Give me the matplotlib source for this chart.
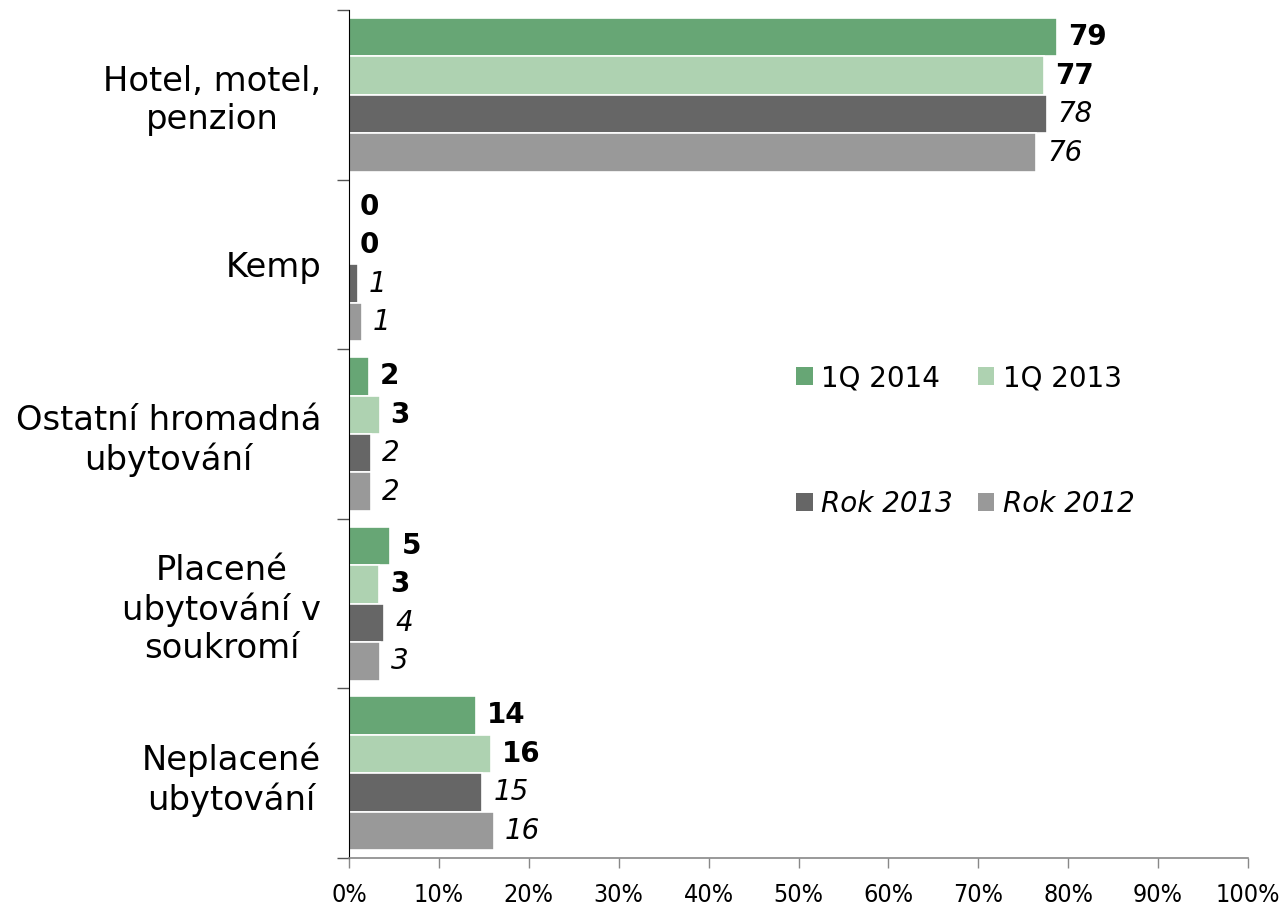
import matplotlib
matplotlib.use("Agg")
import matplotlib.pyplot as plt
import numpy as np
from matplotlib.patches import Patch

plt.rcParams['font.family'] = ['DejaVu Sans']

categories = ["Hotel, motel,\npenzion", "Kemp", "Ostatní hromadná\nubytování",
              "Placené\nubytování v\nsoukromí", "Neplacené\nubytování"]
series_names = ["1Q 2014", "1Q 2013", "Rok 2013", "Rok 2012"]
q1_2014 = [78.8, 0.0, 2.2, 4.6, 14.1]
q1_2013 = [77.3, 0.0, 3.4, 3.3, 15.8]
rok_2013 = [77.6, 1.0, 2.4, 3.9, 14.8]
rok_2012 = [76.4, 1.4, 2.4, 3.4, 16.1]
x_ticks = [0, 10, 20, 30, 40, 50, 60, 70, 80, 90, 100]
x_tick_labels = [f"{t}%" for t in x_ticks]

colors = ["#67A675", "#AED2B1", "#666666", "#999999"]
series = [q1_2014, q1_2013, rok_2013, rok_2012]
bold_flags = [True, True, False, False]

fig = plt.figure(figsize=(12.83, 9.06), dpi=100)
ax = fig.add_axes([349/1283, 1-858/906, (1248-349)/1283, (858-10)/906])

n = len(categories)
y = np.arange(n)
h = 0.227
offsets = [-1.5, -0.5, 0.5, 1.5]
for vals, col, off, bold in zip(series, colors, offsets, bold_flags):
    ypos = y + off * h
    ax.barh(ypos, vals, height=h, color=col, edgecolor="white", linewidth=1.2)
    for yy, v in zip(ypos, vals):
        ax.annotate(f"{v:.0f}", xy=(v, yy), xytext=(8, 0), textcoords="offset points",
                    va="center", ha="left",
                    fontsize=20,
                    fontweight="bold" if bold else "normal",
                    fontstyle="normal" if bold else "italic",
                    color="black")

ax.set_xlim(0, 100)
ax.set_ylim(n - 0.5, -0.5)
ax.set_xticks(x_ticks)
ax.set_xticklabels(x_tick_labels, fontsize=18, fontstretch="condensed")
ax.tick_params(axis="x", direction="out", length=7, width=1, color="#888888", pad=11)

ax.set_yticks(np.arange(-0.5, n, 1.0))
ax.set_yticklabels([])
ax.tick_params(axis="y", which="major", direction="out", length=9, width=1, color="#555555")
ax.set_yticks(y, minor=True)
ax.set_yticklabels(categories, minor=True, fontsize=24.3, ha="right",
                   multialignment="center", linespacing=1.2)
ax.tick_params(axis="y", which="minor", length=0, pad=20)

for s in ["top", "right"]:
    ax.spines[s].set_visible(False)
ax.spines["left"].set_color("black")
ax.spines["bottom"].set_color("#888888")
ax.spines["bottom"].set_linewidth(1.2)

handles = [Patch(facecolor=c, edgecolor="none") for c in colors]
order = [0, 2, 1, 3]
leg = ax.legend([handles[i] for i in order], [series_names[i] for i in order],
                ncol=2, loc="upper left", bbox_to_anchor=((796-349)/899, 1-(364-10)/848),
                frameon=False, fontsize=20, handlelength=0.6, handleheight=0.6,
                handletextpad=0.3, columnspacing=0.9, labelspacing=3.52,
                borderaxespad=0, borderpad=0)
for t in leg.get_texts():
    if t.get_text().startswith("Rok"):
        t.set_fontstyle("italic")

fig.savefig("out.png", dpi=100)
